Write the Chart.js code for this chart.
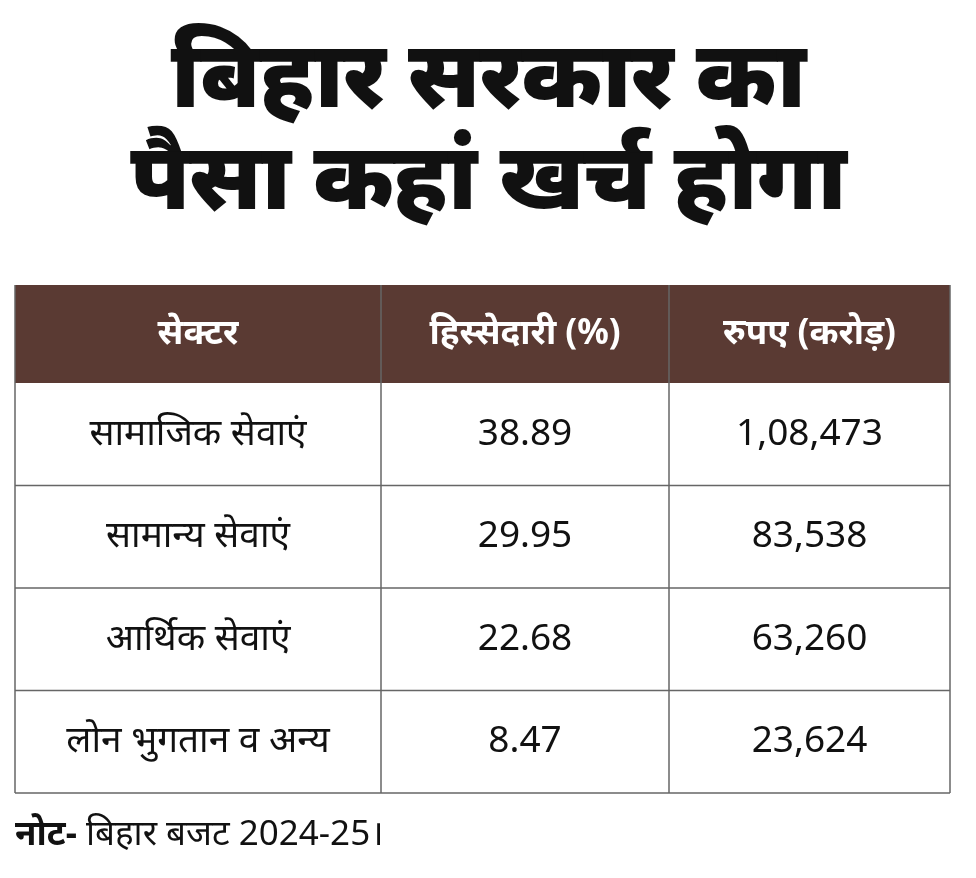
<!DOCTYPE html>
<html><head><meta charset="utf-8">
<script src="https://cdn.jsdelivr.net/npm/chart.js@4"></script>
<style>
html,body{margin:0;padding:0;background:#fff;width:976px;height:878px;overflow:hidden;font-family:"Noto Sans","Noto Sans Devanagari",sans-serif}
#t{position:absolute;left:0;top:20px;width:976px;text-align:center;font-weight:900;font-size:93px;line-height:102px;color:#111;letter-spacing:-1px}
#n{position:absolute;left:15px;top:808px;font-size:35px;color:#111}
canvas{position:absolute;left:0;top:0}
</style></head><body>
<canvas id="c" width="976" height="878"></canvas>
<div id="t">बिहार सरकार का<br>पैसा कहां खर्च होगा</div>
<div id="n"><b>नोट-</b> बिहार बजट 2024-25।</div>
<script>
const headers = ["सेक्टर", "हिस्सेदारी (%)", "रुपए (करोड़)"];
const sectors = ["सामाजिक सेवाएं", "सामान्य सेवाएं", "आर्थिक सेवाएं", "लोन भुगतान व अन्य"];
const shares = ["38.89", "29.95", "22.68", "8.47"];
const crores = ["1,08,473", "83,538", "63,260", "23,624"];
const FONT = '"Noto Sans","Noto Sans Devanagari",sans-serif';
const tablePlugin = {
  id: 'table',
  afterDraw(chart) {
    const ctx = chart.ctx, ys = chart.scales.y, a = chart.chartArea;
    const rowH = (a.bottom - a.top) / sectors.length;
    const hTop = a.top - 98;
    const edges = [a.left, 381, 669, a.right];
    ctx.save();
    ctx.fillStyle = '#5a3a33';
    ctx.fillRect(a.left, hTop, a.right - a.left, a.top - hTop);
    ctx.textAlign = 'center'; ctx.textBaseline = 'middle';
    ctx.font = 'bold 35px ' + FONT; ctx.fillStyle = '#fff';
    headers.forEach((h, i) => ctx.fillText(h, (edges[i] + edges[i+1]) / 2, (hTop + a.top) / 2));
    ctx.font = '37px ' + FONT; ctx.fillStyle = '#111';
    sectors.forEach((s, i) => {
      const y = ys.getPixelForValue(i);
      [s, shares[i], crores[i]].forEach((v, j) => ctx.fillText(v, (edges[j] + edges[j+1]) / 2, y));
    });
    ctx.strokeStyle = '#666'; ctx.lineWidth = 1.5;
    for (let i = 1; i < sectors.length; i++) {
      const y = a.top + rowH * i;
      ctx.beginPath(); ctx.moveTo(a.left, y); ctx.lineTo(a.right, y); ctx.stroke();
    }
    ctx.beginPath(); ctx.moveTo(a.left, a.bottom); ctx.lineTo(a.right, a.bottom); ctx.stroke();
    edges.forEach(x => { ctx.beginPath(); ctx.moveTo(x, hTop); ctx.lineTo(x, a.bottom); ctx.stroke(); });
    ctx.restore();
  }
};
new Chart(document.getElementById('c'), {
  type: 'bar',
  data: { labels: sectors, datasets: [{ data: shares.map(Number), backgroundColor: 'rgba(0,0,0,0)' }] },
  options: {
    indexAxis: 'y', responsive: false, animation: false,
    layout: { padding: { top: 383, bottom: 85, left: 15, right: 26 } },
    plugins: { legend: { display: false }, tooltip: { enabled: false } },
    scales: { x: { display: false, min: 0, max: 100 }, y: { display: false } }
  },
  plugins: [tablePlugin]
});
</script></body></html>
